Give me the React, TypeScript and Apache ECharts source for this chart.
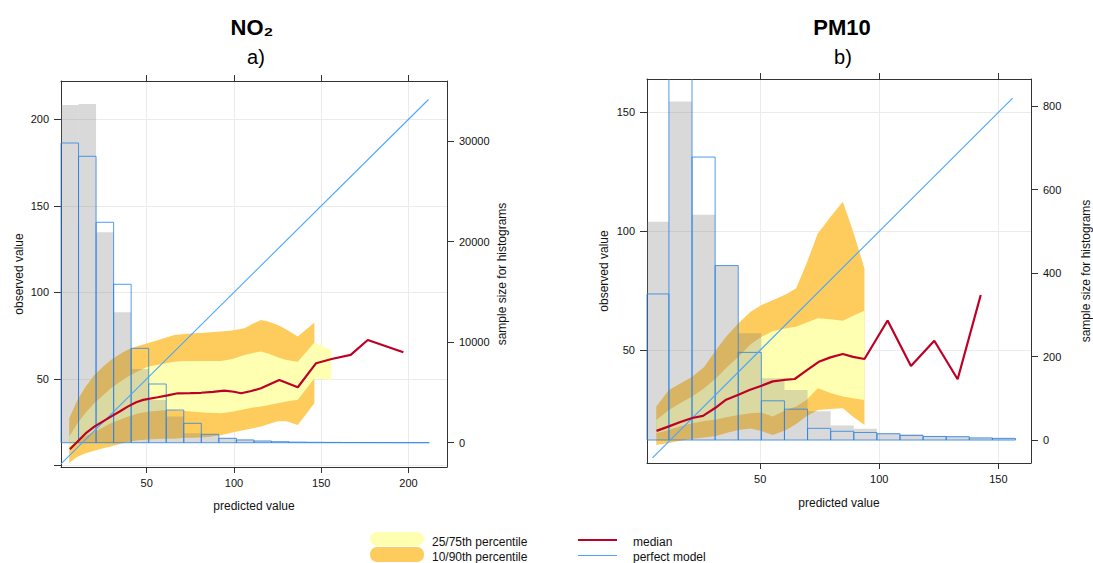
import React, { useEffect, useRef } from "react";
import * as echarts from "echarts";

const FONT = "'Liberation Sans', Arial, Helvetica, sans-serif";

// ---------- NO2 panel ----------
const no2OuterX = [5.6, 10.4, 15, 20, 25, 29.5, 35, 39.1, 45, 50.5, 58, 65.8, 72, 77.3, 85, 92.6, 99, 106, 111, 115.5, 120, 125.1, 130, 136.6, 146.1];
const no2Q10 = [1.5, 5, 7, 8.5, 10, 11, 12.5, 13.5, 14.5, 15, 15.5, 15.5, 16, 16, 16.5, 17.5, 19, 20.5, 21.5, 22.5, 24, 25.5, 25.5, 23.4, 36];
const no2Q90 = [27.3, 37.9, 45.5, 52.3, 57, 61, 64.5, 66.8, 69, 70.6, 73, 75.4, 76, 76.4, 76.8, 77.4, 78, 79.3, 82, 84.1, 83, 81.2, 78.5, 74.5, 82.6];
const no2InnerX = [5.6, 10.4, 15, 20, 25, 29.5, 35, 39.1, 45, 50.5, 58, 65.8, 72, 77.3, 85, 92.6, 99, 106, 111, 115.5, 120, 125.1, 130, 136.6, 146.1, 155.7];
const no2Q25 = [10.5, 14, 17, 19.5, 22, 24.4, 26.5, 28.2, 30, 31.1, 31.8, 32, 31.5, 31, 30.5, 30.2, 31, 32.5, 33.5, 34, 35, 36, 37, 37.9, 50.4, 49.4];
const no2Q75 = [16.7, 24.4, 30.5, 36, 40.5, 44.6, 48.5, 51.3, 54.5, 57, 58.5, 60, 60.3, 60.3, 60.3, 60.3, 61.5, 63.9, 65, 65.8, 64.5, 62.5, 61, 60, 71, 66.8];
const no2MedianX = [6, 10.4, 15, 20, 25, 29.5, 35, 39.1, 44, 48, 56.3, 62, 67.8, 75, 81.1, 88, 94.5, 100, 104.1, 110, 115.5, 126, 136.6, 147.1, 156, 166.9, 176.7, 197.1];
const no2Median = [9.4, 13.8, 18.5, 22.4, 25.5, 28.2, 31.5, 34, 36.5, 37.9, 39.4, 40.5, 41.7, 41.8, 42, 42.5, 43.2, 42.6, 41.7, 43, 44.6, 49.4, 45.2, 59.1, 61.5, 63.9, 72.5, 65.4];
const no2BinStart = 0.9;
const no2BinWidth = 10.05;
const no2ObsCounts = [33569, 33668, 20915, 12962, 7326, 4244, 2600, 934, 800, 480, 330, 200, 100, 60, 40, 25, 15, 10, 5, 3, 2];
const no2PredCounts = [29791, 28469, 21909, 15746, 9384, 5835, 3250, 1928, 835, 437, 268, 169, 100, 60, 40, 30, 20, 15, 10, 8, 5];
const no2Perfect = [0.9, 211.5];

// ---------- PM10 panel ----------
const pm10X = [6.4, 11.7, 16.5, 21.5, 26.5, 31.5, 35.7, 40.9, 46, 50.6, 55.3, 60.9, 65.1, 69.3, 74.2, 79.5, 84.7, 89, 93.8];
const pm10Q10 = [10.2, 11, 12, 12.8, 13.3, 14, 15.2, 16.5, 17.1, 16, 14.4, 16.5, 19, 22.1, 24.9, 25.3, 25.6, 22, 18.6];
const pm10Q90 = [26.3, 33.3, 36, 38.9, 43, 50.1, 55.7, 61.3, 66.2, 69, 71, 73.5, 76, 86, 99.1, 106, 112.4, 100, 84.4];
const pm10Q25 = [15.1, 16.5, 18, 19.3, 20.3, 20.9, 21.8, 22.8, 23.5, 23.8, 22.1, 24.9, 26.3, 29, 34, 32, 30.5, 29.8, 29.1];
const pm10Q75 = [20.7, 24.9, 27.8, 30.5, 34, 38.2, 42.5, 47.3, 52.5, 55.7, 58, 59.2, 59.9, 61.5, 63.4, 63, 62.4, 64.5, 66.6];
const pm10MedianX = [6.5, 11.7, 16.5, 21.5, 26, 31.1, 35.7, 40.9, 45.5, 50.6, 55.3, 60, 64.5, 69.5, 74.9, 79.5, 84.7, 89, 93.8, 103.5, 113.3, 123.1, 132.9, 142.6];
const pm10Median = [16.1, 18, 19.8, 21.5, 22.4, 25.7, 29.2, 31.3, 33.3, 35.1, 36.9, 37.5, 37.9, 41.5, 45.3, 47, 48.4, 47.2, 46.3, 62.5, 43.4, 54, 37.8, 73.2];
const pm10BinStart = 2.0;
const pm10BinWidth = 9.7;
const pm10ObsCounts = [523, 811, 540, 418, 256, 148, 120, 69, 35, 27, 17, 14, 10, 9, 6, 5];
const pm10PredCounts = [350, 950, 678, 418, 210, 94, 74, 28, 21, 18, 15, 11, 8.5, 8, 5, 4];
const pm10Perfect = [4.8, 156];

// ---------- axis ticks ----------
const no2ValueTicks = [0, 50, 100, 150, 200];
const no2ValueLabels = [50, 100, 150, 200];
const no2CountTicks = [0, 10000, 20000, 30000];
const pm10ValueTicks = [50, 100, 150];
const pm10CountTicks = [0, 200, 400, 600, 800];

// ---------- colours ----------
const YELLOW = "#FFFFB2";
const ORANGE = "#FECC5C";
const RED = "#BD0026";
const PERFECT = "#4aa6ff";
const HIST_GREY = "rgba(120,120,120,0.28)";
const HIST_BLUE = "rgba(40,130,230,0.8)";
const AXIS = "#333";
const GRIDLINE = "#ebebeb";

const zip3 = (xs: number[], lo: number[], hi: number[]) => xs.map((x, i) => [x, lo[i], hi[i]]);
const bins = (start: number, width: number, counts: number[]) =>
  counts.map((c, i) => [start + i * width, start + (i + 1) * width, c]);
const zip2 = (xs: number[], ys: number[]) => xs.map((x, i) => [x, ys[i]]);

function bandSeries(data: number[][], color: string, xi: number, yi: number, z: number) {
  return {
    type: "custom",
    xAxisIndex: xi,
    yAxisIndex: yi,
    z,
    silent: true,
    data,
    encode: { x: 0, y: [1, 2] },
    renderItem: (params: any, api: any) => {
      if (params.dataIndex !== 0) return null;
      const upper = data.map((d) => api.coord([d[0], d[2]]));
      const lower = data.map((d) => api.coord([d[0], d[1]])).reverse();
      return { type: "polygon", shape: { points: upper.concat(lower) }, style: { fill: color } };
    },
  };
}

// filled histogram bars
function histFillSeries(data: number[][], fill: string, xi: number, yi: number, z: number) {
  return {
    type: "custom",
    xAxisIndex: xi,
    yAxisIndex: yi,
    z,
    silent: true,
    data,
    encode: { x: [0, 1], y: 2 },
    renderItem: (params: any, api: any) => {
      const p0 = api.coord([api.value(0), 0]);
      const p1 = api.coord([api.value(1), api.value(2)]);
      const rect = echarts.graphic.clipRectByRect(
        { x: p0[0], y: p1[1], width: p1[0] - p0[0], height: p0[1] - p1[1] },
        params.coordSys
      );
      if (!rect) return null;
      return { type: "rect", shape: rect, style: { fill } };
    },
  };
}

// outlined histogram bars; a bar cut by the top of the panel loses its top edge
function histOutlineSeries(data: number[][], stroke: string, xi: number, yi: number, z: number) {
  return {
    type: "custom",
    xAxisIndex: xi,
    yAxisIndex: yi,
    z,
    silent: true,
    data,
    encode: { x: [0, 1], y: 2 },
    renderItem: (params: any, api: any) => {
      const cs = params.coordSys;
      const p0 = api.coord([api.value(0), 0]);
      const p1 = api.coord([api.value(1), api.value(2)]);
      const xl = Math.max(p0[0], cs.x);
      const xr = Math.min(p1[0], cs.x + cs.width);
      const yb = p0[1];
      const cut = p1[1] < cs.y;
      const yt = cut ? cs.y : p1[1];
      const points = cut
        ? [[xl, yt], [xl, yb], [xr, yb], [xr, yt]]
        : [[xl, yb], [xl, yt], [xr, yt], [xr, yb], [xl, yb]];
      return { type: "polyline", shape: { points }, style: { stroke, lineWidth: 1, fill: "none" } };
    },
  };
}

function lineSeries(data: number[][], color: string, width: number, xi: number, yi: number, z: number) {
  return {
    type: "line",
    xAxisIndex: xi,
    yAxisIndex: yi,
    z,
    silent: true,
    data,
    symbol: "none",
    lineStyle: { color, width },
  };
}

const tickLabel = { fontFamily: FONT, fontSize: 11, color: "#111" };
const axisName = { fontFamily: FONT, fontSize: 12, color: "#111" };
const axisLine = { show: true, onZero: false, lineStyle: { color: AXIS, width: 1 } };
const plain = (v: number) => String(v);

function xAxes(grid: number, min: number, max: number, ticks: number[], labels: number[], gap: number) {
  return [
    {
      type: "value",
      gridIndex: grid,
      position: "bottom",
      min,
      max,
      name: "predicted value",
      nameLocation: "middle",
      nameGap: gap,
      nameTextStyle: axisName,
      axisLine,
      axisTick: { show: true, length: 6, customValues: ticks, lineStyle: { color: AXIS } },
      axisLabel: { show: true, customValues: labels, margin: 10, formatter: plain, ...tickLabel },
      splitLine: { show: true, lineStyle: { color: GRIDLINE, width: 1 } },
    },
    {
      type: "value",
      gridIndex: grid,
      position: "top",
      min,
      max,
      axisLine,
      axisTick: { show: true, length: 6, customValues: labels, lineStyle: { color: AXIS } },
      axisLabel: { show: false },
      splitLine: { show: false },
    },
  ];
}

function yAxes(
  grid: number,
  min: number,
  max: number,
  ticks: number[],
  labels: number[],
  cMin: number,
  cMax: number,
  cTicks: number[],
  gapL: number,
  gapR: number
) {
  return [
    {
      type: "value",
      gridIndex: grid,
      position: "left",
      min,
      max,
      name: "observed value",
      nameLocation: "middle",
      nameGap: gapL,
      nameRotate: 90,
      nameTextStyle: axisName,
      axisLine,
      axisTick: { show: true, length: 7, customValues: ticks, lineStyle: { color: AXIS } },
      axisLabel: { show: true, customValues: labels, margin: 12, formatter: plain, ...tickLabel },
      splitLine: { show: true, lineStyle: { color: GRIDLINE, width: 1 } },
    },
    {
      type: "value",
      gridIndex: grid,
      position: "right",
      min: cMin,
      max: cMax,
      name: "sample size for histograms",
      nameLocation: "middle",
      nameGap: gapR,
      nameRotate: 90,
      nameTextStyle: axisName,
      axisLine,
      axisTick: { show: true, length: 7, customValues: cTicks, lineStyle: { color: AXIS } },
      axisLabel: { show: true, customValues: cTicks, margin: 12, formatter: plain, ...tickLabel },
      splitLine: { show: false },
    },
  ];
}

function panelSeries(
  xb: number,
  yv: number,
  yc: number,
  outer: number[][],
  inner: number[][],
  obs: number[][],
  pred: number[][],
  perfect: number[],
  median: number[][]
) {
  return [
    bandSeries(outer, ORANGE, xb, yv, 2),
    bandSeries(inner, YELLOW, xb, yv, 3),
    histFillSeries(obs, HIST_GREY, xb, yc, 4),
    histOutlineSeries(pred, HIST_BLUE, xb, yc, 5),
    lineSeries([[perfect[0], perfect[0]], [perfect[1], perfect[1]]], PERFECT, 1.1, xb, yv, 6),
    lineSeries(median, RED, 2.2, xb, yv, 7),
  ];
}

function titleText(text: string, x: number, y: number, size: number, bold: boolean) {
  return {
    type: "text",
    x,
    y,
    style: {
      text,
      fontFamily: FONT,
      fontSize: size,
      fontWeight: bold ? "bold" : "normal",
      fill: "#000",
      textAlign: "center",
      textVerticalAlign: "middle",
    },
  };
}

function legendText(text: string, x: number, y: number) {
  return {
    type: "text",
    x,
    y,
    style: { text, fontFamily: FONT, fontSize: 12, fill: "#111", textAlign: "left", textVerticalAlign: "middle" },
  };
}

export default function App() {
  const ref = useRef<HTMLDivElement>(null);

  useEffect(() => {
    if (!ref.current) return;
    const chart = echarts.init(ref.current, undefined, { renderer: "svg" });

    const option: any = {
      animation: false,
      backgroundColor: "#fff",
      grid: [
        { left: 61, top: 81, width: 386, height: 386 },
        { left: 647, top: 79, width: 384, height: 384 },
      ],
      xAxis: [
        ...xAxes(0, 0.9, 222.1, no2ValueTicks, no2ValueLabels, 33),
        ...xAxes(1, 2.5, 163.7, pm10ValueTicks, pm10ValueTicks, 34),
      ],
      yAxis: [
        ...yAxes(0, -0.9, 222.2, no2ValueTicks, no2ValueLabels, -2415, 35954, no2CountTicks, 36, 49),
        ...yAxes(1, 2.6, 164, pm10ValueTicks, pm10ValueTicks, -55, 865, pm10CountTicks, 37, 49),
      ],
      series: [
        ...panelSeries(
          0,
          0,
          1,
          zip3(no2OuterX, no2Q10, no2Q90),
          zip3(no2InnerX, no2Q25, no2Q75),
          bins(no2BinStart, no2BinWidth, no2ObsCounts),
          bins(no2BinStart, no2BinWidth, no2PredCounts),
          no2Perfect,
          zip2(no2MedianX, no2Median)
        ),
        ...panelSeries(
          2,
          2,
          3,
          zip3(pm10X, pm10Q10, pm10Q90),
          zip3(pm10X, pm10Q25, pm10Q75),
          bins(pm10BinStart, pm10BinWidth, pm10ObsCounts),
          bins(pm10BinStart, pm10BinWidth, pm10PredCounts),
          pm10Perfect,
          zip2(pm10MedianX, pm10Median)
        ),
      ],
      graphic: [
        titleText("NO₂", 252, 27, 22, true),
        titleText("a)", 256, 57, 20, false),
        titleText("PM10", 842, 27, 22, true),
        titleText("b)", 843, 57, 20, false),
        { type: "rect", shape: { x: 370, y: 532, width: 54, height: 14, r: 7 }, style: { fill: YELLOW } },
        { type: "rect", shape: { x: 370, y: 547, width: 54, height: 15, r: 7 }, style: { fill: ORANGE } },
        legendText("25/75th percentile", 432, 541.5),
        legendText("10/90th percentile", 432, 556.5),
        { type: "line", shape: { x1: 578, y1: 540, x2: 617, y2: 540 }, style: { stroke: RED, lineWidth: 2 } },
        { type: "line", shape: { x1: 578, y1: 555.5, x2: 617, y2: 555.5 }, style: { stroke: PERFECT, lineWidth: 1.2 } },
        legendText("median", 633, 541.5),
        legendText("perfect model", 633, 556.5),
      ],
    };

    chart.setOption(option);
    return () => chart.dispose();
  }, []);

  return (
    <div
      ref={ref}
      style={{ position: "fixed", left: 0, top: 0, width: 1093, height: 563, background: "#fff" }}
    />
  );
}
